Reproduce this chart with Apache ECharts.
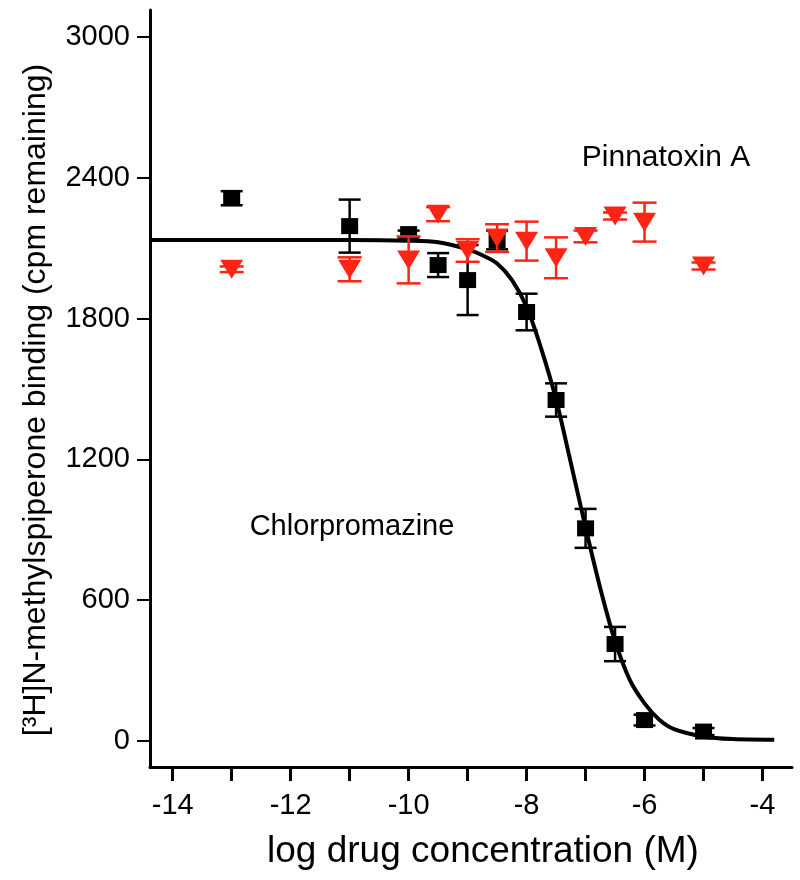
<!DOCTYPE html>
<html>
<head>
<meta charset="utf-8">
<script src="https://cdn.jsdelivr.net/npm/echarts@6/dist/echarts.min.js"></script>
<style>
html,body{margin:0;padding:0;background:#fff;}
#chart{width:800px;height:880px;}
</style>
</head>
<body>
<div id="chart"></div>
<script>
// ---- data ----
const xTicks = [-14, -13, -12, -11, -10, -9, -8, -7, -6, -5, -4];
const xLabels = [-14, -12, -10, -8, -6, -4];
const yTicks = [0, 600, 1200, 1800, 2400, 3000];

const chlorX   = [-13, -11, -10, -9.5, -9, -8.5, -8, -7.5, -7, -6.5, -6, -5];
const chlorY   = [2313, 2194, 2160, 2028, 1964, 2135, 1828, 1453, 906, 413, 89, 40];
const chlorErr = [30, 113, 15, 51, 149, 40, 78, 71, 83, 73, 23, 15];

const pinnaX   = [-13, -11, -10, -9.5, -9, -8.5, -8, -7.5, -7, -6.5, -6, -5];
const pinnaY   = [2010, 2010, 2050, 2245, 2090, 2143, 2130, 2059, 2150, 2237, 2211, 2024];
const pinnaErr = [12, 51, 100, 30, 48, 59, 83, 87, 25, 15, 83, 15];

const curveX = [-14.385, -11, -10, -9.5, -9, -8.75, -8.5, -8.25, -8, -7.75, -7.5, -7.25, -7, -6.75, -6.5, -6.25, -6, -5.75, -5.5, -5, -4.5, -3.8];
const curveY = [2135, 2135, 2132, 2125, 2095, 2070, 2035, 1965, 1850, 1670, 1455, 1185, 910, 650, 425, 260, 160, 90, 50, 18, 8, 5];

const FONT = '"Liberation Sans", Arial, sans-serif';
const RED = '#ff2414';

function zip(xs, ys) { return xs.map((x, i) => [x, ys[i]]); }
function errData(xs, ys, es) { return xs.map((x, i) => [x, ys[i] - es[i], ys[i] + es[i]]); }
function errRender(color, capW) {
  return function (params, api) {
    const lo = api.coord([api.value(0), api.value(1)]);
    const hi = api.coord([api.value(0), api.value(2)]);
    const st = { stroke: color, lineWidth: 2.5 };
    return {
      type: 'group',
      children: [
        { type: 'line', shape: { x1: lo[0], y1: lo[1], x2: hi[0], y2: hi[1] }, style: st },
        { type: 'line', shape: { x1: lo[0] - capW / 2, y1: lo[1], x2: lo[0] + capW / 2, y2: lo[1] }, style: st },
        { type: 'line', shape: { x1: hi[0] - capW / 2, y1: hi[1], x2: hi[0] + capW / 2, y2: hi[1] }, style: st }
      ]
    };
  };
}

const chart = echarts.init(document.getElementById('chart'), null, { renderer: 'canvas' });
chart.setOption({
  animation: false,
  backgroundColor: '#fff',
  grid: { left: 150, right: 8, top: 10, bottom: 113, containLabel: false },
  xAxis: {
    type: 'value', min: -14.385, max: -3.5,
    splitLine: { show: false },
    axisLine: { show: true, onZero: false, lineStyle: { color: '#000', width: 3 } },
    axisTick: { show: true, inside: false, length: 14, customValues: xTicks, lineStyle: { color: '#000', width: 3 } },
    axisLabel: { customValues: xLabels, color: '#000', fontSize: 29, fontFamily: FONT, margin: 24,
      formatter: v => String(v) }
  },
  yAxis: {
    type: 'value', min: -111, max: 3115,
    splitLine: { show: false },
    axisLine: { show: true, onZero: false, lineStyle: { color: '#000', width: 3 } },
    axisTick: { show: true, inside: false, length: 13, customValues: yTicks, lineStyle: { color: '#000', width: 2 } },
    axisLabel: { customValues: yTicks, color: '#000', fontSize: 29, fontFamily: FONT, margin: 20,
      formatter: v => String(v) }
  },
  graphic: [
    { type: 'text', x: 36, y: 400, rotation: Math.PI / 2,
      style: { text: '[³H]N-methylspiperone binding (cpm remaining)', fill: '#000', fontSize: 32, fontFamily: FONT, align: 'center', verticalAlign: 'middle' } },
    { type: 'text', x: 483, y: 852,
      style: { text: 'log drug concentration (M)', fill: '#000', fontSize: 37, fontFamily: FONT, align: 'center', verticalAlign: 'middle' } },
    { type: 'text', x: 666, y: 158,
      style: { text: 'Pinnatoxin A', fill: '#000', fontSize: 30, fontFamily: FONT, align: 'center', verticalAlign: 'middle' } },
    { type: 'text', x: 352, y: 527,
      style: { text: 'Chlorpromazine', fill: '#000', fontSize: 29, fontFamily: FONT, align: 'center', verticalAlign: 'middle' } }
  ],
  series: [
    { type: 'line', data: zip(curveX, curveY), smooth: 0.3, showSymbol: false,
      lineStyle: { color: '#000', width: 4 }, z: 2 },
    { type: 'custom', data: errData(chlorX, chlorY, chlorErr), renderItem: errRender('#000', 22), z: 3 },
    { type: 'scatter', data: zip(chlorX, chlorY), symbol: 'rect', symbolSize: [17, 16],
      itemStyle: { color: '#000', opacity: 1 }, z: 4 },
    { type: 'custom', data: errData(pinnaX, pinnaY, pinnaErr), renderItem: errRender(RED, 24), z: 5 },
    { type: 'scatter', data: zip(pinnaX, pinnaY), symbol: 'triangle', symbolRotate: 180, symbolSize: [23, 19],
      itemStyle: { color: RED, opacity: 1 }, z: 6 }
  ]
});
</script>
</body>
</html>
